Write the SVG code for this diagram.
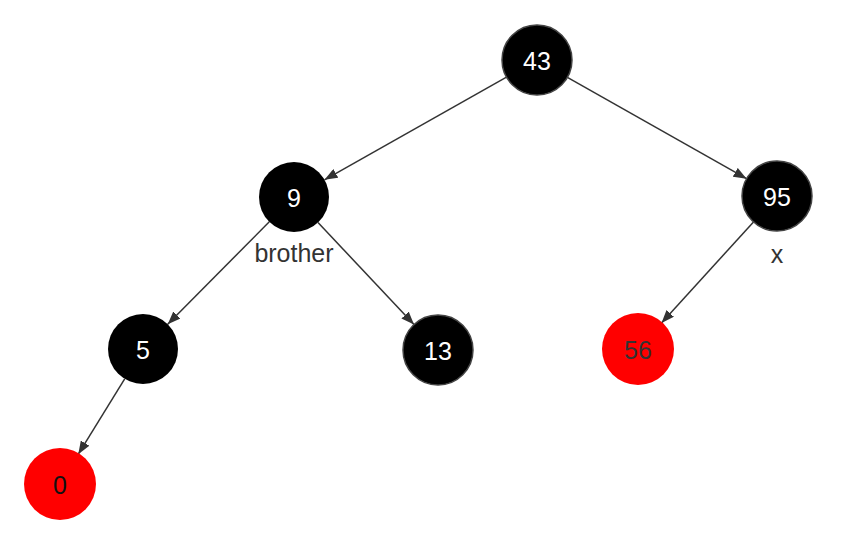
<svg xmlns="http://www.w3.org/2000/svg" width="862" height="544" viewBox="0 0 862 544">
<style>
.b{fill:#000}
.bs{fill:#000;stroke:#444;stroke-width:1.5}
.r{fill:#ff0000}
.t{font-family:"Liberation Sans",Arial,sans-serif;font-size:25px;text-anchor:middle;dominant-baseline:central}
.w{fill:#fff}
.lbl{fill:#333}
.e{stroke:#333;stroke-width:1.5;fill:none;marker-end:url(#a)}
</style>
<defs>
<marker id="a" markerWidth="14" markerHeight="10" refX="13" refY="5" orient="auto" markerUnits="userSpaceOnUse">
<path d="M0,0 L13,5 L0,10 Z" fill="#333"/>
</marker>
</defs>
<rect width="862" height="544" fill="#fff"/>
<g id="edges">
<line class="e" x1="506.5" y1="77.2" x2="324.5" y2="179.8"/>
<line class="e" x1="567.4" y1="77.3" x2="746.6" y2="178.7"/>
<line class="e" x1="269.3" y1="221.8" x2="167.7" y2="324.2"/>
<line class="e" x1="318" y1="222.5" x2="414" y2="324.5"/>
<line class="e" x1="753.5" y1="221.9" x2="661.5" y2="323.1"/>
<line class="e" x1="124.7" y1="378.8" x2="78.3" y2="454.2"/>
</g>
<g id="n43"><circle class="bs" cx="537" cy="60" r="35"/><text class="t w" x="537" y="61">43</text></g>
<g id="n9"><circle class="b" cx="294" cy="197" r="35"/><text class="t w" x="294" y="198">9</text><text class="t lbl" x="294" y="253">brother</text></g>
<g id="n95"><circle class="bs" cx="777" cy="196" r="35"/><text class="t w" x="777" y="197">95</text><text class="t lbl" x="777" y="254">x</text></g>
<g id="n5"><circle class="b" cx="143" cy="349" r="35"/><text class="t w" x="143" y="350">5</text></g>
<g id="n13"><circle class="bs" cx="438" cy="350" r="35"/><text class="t w" x="438" y="351">13</text></g>
<g id="n56"><circle class="r" cx="638" cy="349" r="36"/><text class="t lbl" x="638" y="350">56</text></g>
<g id="n0"><circle class="r" cx="60" cy="484" r="36"/><text class="t" fill="#111" x="60" y="485">0</text></g>
</svg>
